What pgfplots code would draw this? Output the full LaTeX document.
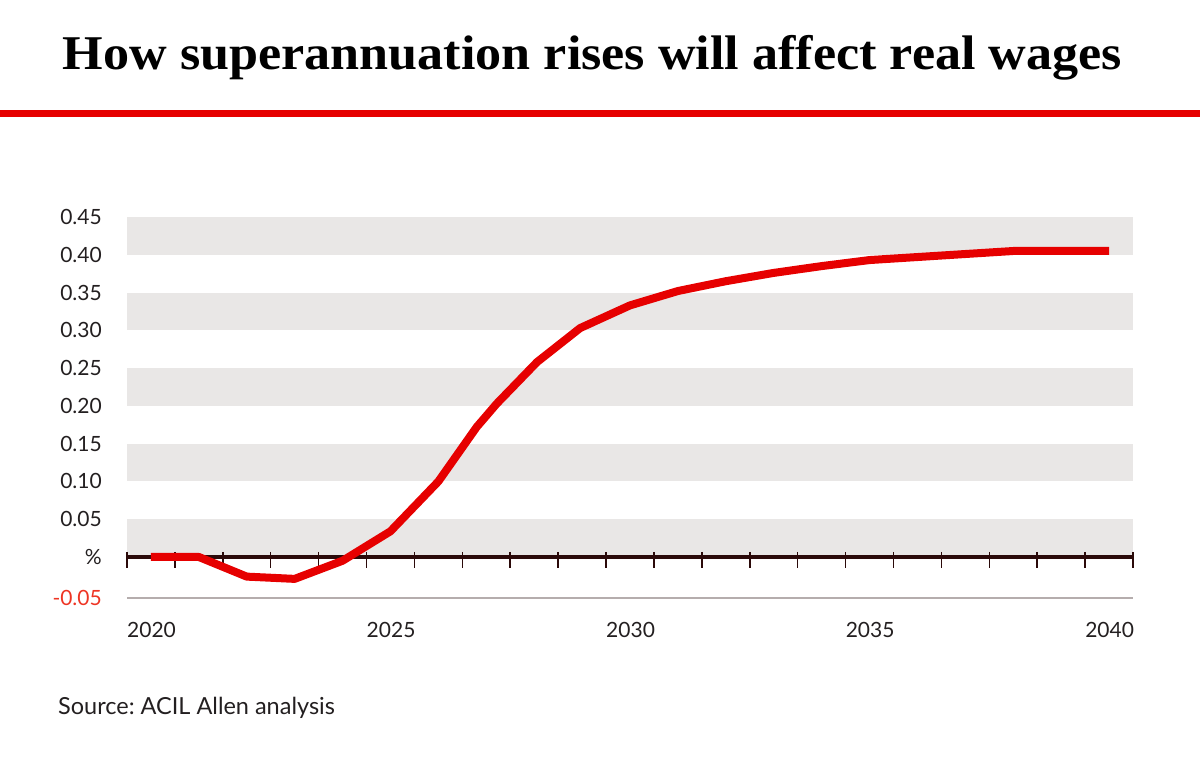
\documentclass[border=0pt]{standalone}
\usepackage{pgfplots}
\pgfplotsset{compat=1.18}
\usepackage{fontspec}
\setmainfont{Lato}
\newfontfamily\titlefont{Liberation Serif}
\frenchspacing

\definecolor{brandred}{HTML}{E60000}
\definecolor{bandgray}{HTML}{E9E7E6}
\definecolor{axisdark}{HTML}{2B0A0A}
\definecolor{labeldark}{HTML}{231F20}
\definecolor{negred}{HTML}{EE3524}
\definecolor{basegray}{HTML}{B5ADAD}

\begin{document}
\begin{tikzpicture}
\path[use as bounding box] (0,0) rectangle (1200bp,768bp);

% headline and rule
\node[anchor=base, inner sep=0pt] at (592.5bp,698bp)
  {\scalebox{1.075}[1]{\titlefont\bfseries\fontsize{48.5bp}{50bp}\selectfont How superannuation rises will affect real wages}};
\fill[brandred] (0,650.5bp) rectangle (1200bp,658bp);

\begin{axis}[
    at={(127bp,170bp)}, anchor=south west,
    scale only axis,
    width=1006bp, height=381bp,
    xmin=2020, xmax=2041,
    ymin=-0.0543, ymax=0.45,
    axis line style={draw=none},
    major tick length=0pt,
    xtick={2020,2025,2030,2035,2040},
    xticklabels={2020,2025,2030,2035,2040},
    ytick={-0.0543,0,0.05,0.10,0.15,0.20,0.25,0.30,0.35,0.40,0.45},
    yticklabels={\textcolor{negred}{-0.05},\%,0.05,0.10,0.15,0.20,0.25,0.30,0.35,0.40,0.45},
    xticklabel style={anchor=north west, inner sep=0pt, yshift=-24bp,
      font=\fontsize{21bp}{23bp}\selectfont, text=labeldark},
    yticklabel style={anchor=east, inner sep=0pt, xshift=-25bp,
      font=\fontsize{21bp}{23bp}\selectfont, text=labeldark},
    clip=false,
]
% grey bands
\pgfplotsinvokeforeach{0,0.10,0.20,0.30,0.40}{
  \fill[bandgray] (axis cs:2020,#1) rectangle (axis cs:2041,#1+0.05);
}
% baseline at -0.05
\draw[basegray, line width=2bp] (axis cs:2020,-0.0543) -- (axis cs:2041,-0.0543);
% zero line with year ticks
\draw[axisdark, line width=4bp] (axis cs:2020,0) -- (axis cs:2041,0);
\pgfplotsinvokeforeach{2020,...,2041}{
  \draw[axisdark, line width=1.5bp] (axis cs:#1,0.0066) -- (axis cs:#1,-0.0146);
}

\addplot[brandred, line width=8bp, line cap=butt, line join=round] coordinates {
  (2020.5,0)
  (2021.5,0)
  (2022.5,-0.026)
  (2023.5,-0.029)
  (2024.5,-0.005)
  (2025.5,0.034)
  (2026.5,0.100)
  (2027.3,0.172)
  (2027.72,0.203)
  (2028.56,0.258)
  (2029.46,0.303)
  (2030.5,0.333)
  (2031.5,0.352)
  (2032.5,0.365)
  (2033.5,0.376)
  (2034.5,0.385)
  (2035.5,0.393)
  (2036.5,0.397)
  (2037.5,0.401)
  (2038.5,0.405)
  (2039.5,0.405)
  (2040.5,0.405)
};
\end{axis}

\node[anchor=base west, inner sep=0pt, text=labeldark] at (58bp,53bp)
  {\fontsize{23.5bp}{26bp}\selectfont Source: ACIL Allen analysis};
\end{tikzpicture}
\end{document}
